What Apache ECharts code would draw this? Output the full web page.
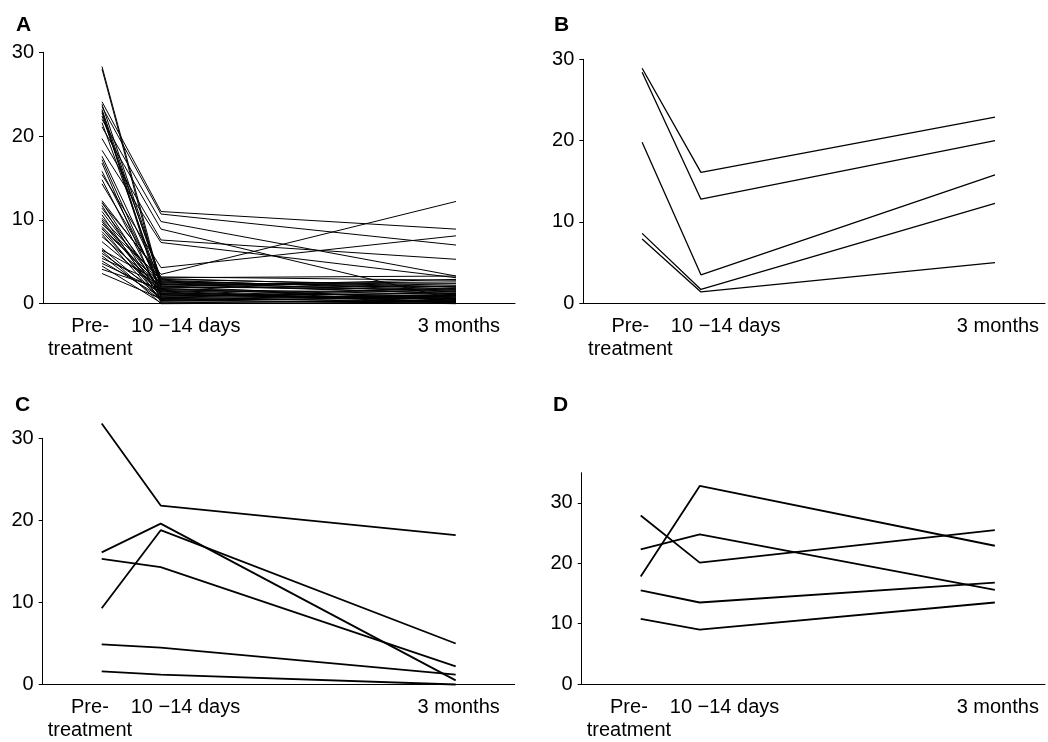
<!DOCTYPE html>
<html>
<head>
<meta charset="utf-8">
<script src="https://cdn.jsdelivr.net/npm/echarts@6/dist/echarts.min.js"></script>
<style>
html,body{margin:0;padding:0;background:#fff;}
#chart{width:1048px;height:742px;}
</style>
</head>
<body>
<div id="chart"></div>
<script>
// ---- Data ----
const timePoints = [0, 1, 6];            // Pre-treatment, 10-14 days, 3 months
const xTickLabels = ['Pre-\ntreatment', '10 \u221214 days', '3 months'];
const xLabelPos = [-0.2, 1.42, 6.05];
const yTicks = [0, 10, 20, 30];
const panelNames = ['A', 'B', 'C', 'D'];

// Panel A (one entry per patient)
const aPre = [28.3, 28.0, 24.1, 23.8, 23.5, 23.2, 23.0, 22.8, 22.4, 22.0,
              21.6, 21.1, 19.7, 18.3, 17.6, 17.2, 16.8, 15.8, 15.4, 14.8,
              14.3, 12.3, 12.1, 12.0, 11.7, 11.4, 11.0, 10.6, 10.2, 10.0,
              9.8, 9.5, 9.2, 9.0, 8.9, 8.6, 8.3, 8.0, 7.4, 6.6,
              6.4, 6.3, 6.0, 5.7, 5.4, 5.1, 4.8, 4.5, 4.1, 3.6];
const aDays = [2.3, 1.8, 11.0, 2.9, 10.7, 2.5, 1.2, 0.8, 3.0, 9.8,
               2.1, 8.9, 7.6, 7.3, 2.7, 1.5, 0.4, 2.0, 4.3, 1.0,
               2.6, 3.2, 1.4, 3.5, 0.6, 2.2, 1.7, 0.2, 2.8, 1.3,
               0.9, 3.1, 1.9, 0.5, 2.4, 1.1, 0.3, 2.0, 1.6, 0.7,
               2.6, 0.0, 1.2, 0.4, 2.3, 0.8, 1.5, 0.1, 1.8, 0.6];
const aMonths = [1.2, 0.6, 8.9, 2.2, 7.0, 1.5, 0.3, 0.9, 2.0, 3.3,
                 0.4, 0.5, 5.3, 3.1, 1.8, 0.2, 1.1, 2.9, 8.1, 0.7,
                 1.4, 2.8, 0.1, 12.2, 1.0, 2.4, 0.8, 0.3, 1.6, 0.5,
                 1.3, 3.3, 2.1, 0.0, 1.2, 0.6, 0.9, 1.7, 0.4, 1.9,
                 2.0, 0.2, 1.0, 0.7, 2.6, 0.1, 1.5, 0.4, 1.1, 0.3];

// Panel B
const bPre = [28.9, 28.4, 19.8, 8.6, 7.9];
const bDays = [16.1, 12.8, 3.5, 1.7, 1.4];
const bMonths = [22.9, 20.0, 15.8, 12.3, 5.0];

// Panel C
const cPre = [31.8, 16.1, 9.3, 15.3, 4.9, 1.6];
const cDays = [21.8, 19.6, 18.8, 14.3, 4.5, 1.2];
const cMonths = [18.2, 0.5, 5.0, 2.2, 1.2, 0.0];

// Panel D
const dPre = [17.8, 27.9, 22.3, 15.5, 10.8];
const dDays = [32.8, 20.1, 24.8, 13.5, 9.0];
const dMonths = [22.9, 25.5, 15.6, 16.8, 13.5];

// ---- Layout ----
const FONT = 'Liberation Sans, Arial, Helvetica, sans-serif';
const grids = [
  {left: 43,    top: 52.3,  width: 472,   height: 251.4},
  {left: 583.3, top: 59.3,  width: 464.7, height: 244},
  {left: 42.7,  top: 438.3, width: 472,   height: 248.4},
  {left: 581.7, top: 472.7, width: 466.3, height: 211.3}
];
const xMax = [7, 6.85, 7, 6.85];
const yMax = [30, 30, 30, 35];
const lineW = [1, 1.3, 1.8, 1.8];
const panels = [[aPre, aDays, aMonths], [bPre, bDays, bMonths], [cPre, cDays, cMonths], [dPre, dDays, dMonths]];
const titlePos = [{left: 16, top: 15}, {left: 554, top: 15}, {left: 15, top: 395}, {left: 553, top: 395}];

function xLabelText(v) {
  let best = 0;
  for (let k = 1; k < xLabelPos.length; k++) {
    if (Math.abs(xLabelPos[k] - v) < Math.abs(xLabelPos[best] - v)) best = k;
  }
  return Math.abs(xLabelPos[best] - v) < 0.05 ? xTickLabels[best] : '';
}

const xAxes = grids.map((g, i) => ({
  type: 'value', gridIndex: i, min: -1, max: xMax[i],
  axisLine: {show: true, onZero: false, lineStyle: {color: '#000', width: 1}},
  axisTick: {show: false},
  splitLine: {show: false},
  axisLabel: {
    // empty labels at both ends so the min/max overlap check never hides a real label
    customValues: [-1].concat(xLabelPos, [xMax[i]]),
    formatter: (v) => xLabelText(v),
    color: '#000', fontFamily: FONT, fontSize: 20, lineHeight: 23, margin: 11.5,
    align: 'center', verticalAlign: 'top', hideOverlap: false
  }
}));

const yAxes = grids.map((g, i) => ({
  type: 'value', gridIndex: i, min: 0, max: yMax[i], interval: 10,
  axisLine: {show: true, onZero: false, lineStyle: {color: '#000', width: 1}},
  axisTick: {show: true, length: 4, customValues: yTicks, lineStyle: {color: '#000', width: 1}},
  splitLine: {show: false},
  axisLabel: {customValues: yTicks, color: '#000', fontFamily: FONT, fontSize: 20, margin: 9}
}));

const series = [];
panels.forEach((arrs, p) => {
  arrs[0].forEach((_, i) => {
    series.push({
      type: 'line', xAxisIndex: p, yAxisIndex: p,
      data: timePoints.map((t, k) => [t, arrs[k][i]]),
      symbol: 'none', clip: false, silent: true,
      lineStyle: {color: '#000', width: lineW[p]}
    });
  });
});

const option = {
  backgroundColor: '#fff',
  animation: false,
  title: panelNames.map((n, i) => ({
    text: n, left: titlePos[i].left, top: titlePos[i].top, padding: 0,
    textStyle: {color: '#000', fontFamily: FONT, fontWeight: 'bold', fontSize: 21}
  })),
  grid: grids,
  xAxis: xAxes,
  yAxis: yAxes,
  series: series
};

const chart = echarts.init(document.getElementById('chart'), null, {renderer: 'canvas'});
chart.setOption(option);
</script>
</body>
</html>
